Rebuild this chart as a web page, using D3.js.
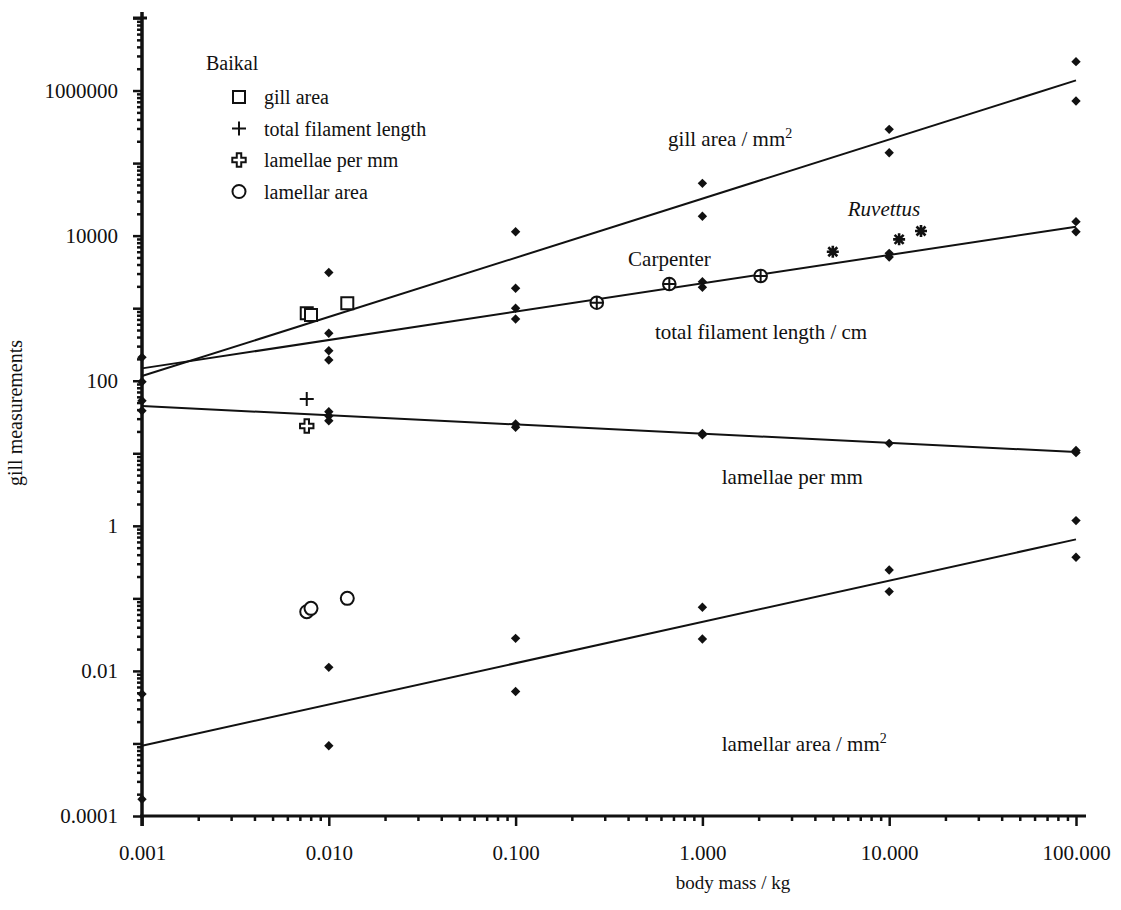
<!DOCTYPE html>
<html lang="en">
  <head>
    <meta charset="utf-8">
    <title>gill measurements</title>
    <script src="https://cdn.jsdelivr.net/npm/d3@7"></script>
    <style>
      body { margin: 0; background: #fff; }
      svg text { font-family: "Liberation Serif", "Times New Roman", serif; fill: #111; }
    </style>
  </head>
  <body>
    <svg id="svg"></svg>

    <script type="text/javascript">

        // ---------------------------------------------------- data
        var massTicks   = [0.001, 0.01, 0.1, 1, 10, 100];
        var massLabels  = ["0.001", "0.010", "0.100", "1.000", "10.000", "100.000"];
        var gillTicks   = [1e-4, 1e-3, 1e-2, 1e-1, 1, 10, 100, 1e3, 1e4, 1e5, 1e6, 1e7];
        var gillLabelAt = [1e-4, 1e-2, 1, 100, 1e4, 1e6];
        var gillLabels  = ["0.0001", "0.01", "1", "100", "10000", "1000000"];

        // - [body mass kg, value]
        var gillAreaPts = [[0.001, 97], [0.01, 3100], [0.01, 451], [0.1, 11300], [0.1, 1880],
                           [1, 52600], [1, 18500], [10, 292000], [10, 139000], [100, 2500000], [100, 717000]];
        var filamentPts = [[0.001, 210], [0.01, 259], [0.01, 193], [0.1, 996], [0.1, 709],
                           [1, 2320], [1, 1940], [10, 5700], [10, 5080], [100, 15600], [100, 11300]];
        var lamellaePts = [[0.001, 53], [0.001, 38.6], [0.01, 37.4], [0.01, 32.6], [0.01, 28.1],
                           [0.1, 25.3], [0.1, 22.8], [1, 18.8], [1, 17.9], [10, 13.7], [100, 10.9], [100, 10.2]];
        var lamAreaPts  = [[0.001, 0.0048], [0.001, 0.00017], [0.01, 0.0112], [0.01, 0.00093],
                           [0.1, 0.0281], [0.1, 0.0052], [1, 0.0753], [1, 0.0275],
                           [10, 0.246], [10, 0.124], [100, 1.18], [100, 0.368]];

        // - fitted lines, ends at 0.001 and 100 kg
        var gillAreaFit = [[0.001, 116], [100, 1380000]];
        var filamentFit = [[0.001, 148], [100, 13300]];
        var lamellaeFit = [[0.001, 44.8], [100, 10.4]];
        var lamAreaFit  = [[0.001, 0.00093], [100, 0.65]];

        // - Baikal, Carpenter, Ruvettus
        var baikalGill     = [[0.00762, 849], [0.00803, 805], [0.01256, 1167]];
        var baikalFilament = [[0.00762, 56]];
        var baikalLamellae = [[0.00762, 23.8]];
        var baikalLamArea  = [[0.00762, 0.0655], [0.00803, 0.0729], [0.01256, 0.100]];
        var carpenterPts   = [[0.272, 1190], [0.665, 2150], [2.05, 2780]];
        var ruvettusPts    = [[4.99, 6000], [11.3, 8890], [14.8, 11600]];

        // - line labels, anchored in data space [mass, value, text, superscript, italic]
        var lineLabels = [
            [0.655, 172000, "gill area / mm", "2", false],
            [6.0, 18600, "Ruvettus", "", true],
            [0.40, 3810, "Carpenter", "", false],
            [0.557, 376, "total filament length / cm", "", false],
            [1.27, 3.77, "lamellae per mm", "", false],
            [1.27, 0.00079, "lamellar area / mm", "2", false]
        ];

        var legendItems = ["gill area", "total filament length", "lamellae per mm", "lamellar area"];


        // ---------------------------------------------------- setup
        var W = 1121, H = 910;
        var svg = d3.select("svg#svg").attr("width", W).attr("height", H);

        var x = d3.scaleLog().domain([0.001, 100]).range([142, 1076]);
        var y = d3.scaleLog().domain([1e-4, 1e7]).range([816, 18]);

        function minors(lo, hi) {
            // - 2..9 for every decade
            var out = [];
            for (var e = lo; e < hi; e++) {
                for (var m = 2; m <= 9; m++) out.push(m * Math.pow(10, e));
            }
            return out;
        }

        // ---------------------------------------------------- axes
        var xg = svg.append("g").attr("transform", "translate(0," + y(1e-4) + ")");
        xg.append("g")
            .call(d3.axisBottom(x).tickValues(minors(-3, 2)).tickSize(5).tickFormat(""))
            .call(g => g.select(".domain").remove());
        xg.append("g")
            .call(d3.axisBottom(x).tickValues(massTicks).tickSize(10).tickPadding(19)
                .tickFormat((d, i) => massLabels[i]))
            .call(g => g.select(".domain").remove())
            .selectAll("text").style("font-size", "21px");
        xg.selectAll("line").attr("stroke", "#111").attr("stroke-width", 2.5);
        xg.append("line")
            .attr("x1", x(0.001) - 2).attr("x2", x(100) + 10)
            .attr("stroke", "#111").attr("stroke-width", 3);

        var yg = svg.append("g").attr("transform", "translate(" + x(0.001) + ",0)");
        yg.append("g")
            .call(d3.axisLeft(y).tickValues(minors(-4, 7)).tickSize(5).tickFormat(""))
            .call(g => g.select(".domain").remove());
        yg.append("g")
            .call(d3.axisLeft(y).tickValues(gillTicks).tickSize(9).tickPadding(15)
                .tickFormat(d => {
                    var i = gillLabelAt.findIndex(v => Math.abs(Math.log10(v) - Math.log10(d)) < 1e-6);
                    return i < 0 ? "" : gillLabels[i];
                }))
            .call(g => g.select(".domain").remove())
            .selectAll("text").style("font-size", "21px");
        yg.selectAll("line").attr("stroke", "#111").attr("stroke-width", 2.5);
        yg.append("line")
            .attr("y1", y(1e-4) + 10).attr("y2", y(1e7) - 6)
            .attr("stroke", "#111").attr("stroke-width", 3.5);
        // - cross cap at the top of the y axis
        yg.append("line")
            .attr("x1", -9).attr("x2", 5).attr("y1", y(1e7)).attr("y2", y(1e7))
            .attr("stroke", "#111").attr("stroke-width", 3);

        // - axis titles
        svg.append("text")
            .attr("x", (x(0.001) + x(100)) / 2 + 124).attr("y", 889)
            .attr("text-anchor", "middle").style("font-size", "19px")
            .text("body mass / kg");
        svg.append("text")
            .attr("transform", "translate(22,413) rotate(-90)")
            .attr("text-anchor", "middle").style("font-size", "20px")
            .text("gill measurements");


        // ---------------------------------------------------- fitted lines
        var line = d3.line().x(d => x(d[0])).y(d => y(d[1]));
        [gillAreaFit, filamentFit, lamellaeFit, lamAreaFit].forEach(function(f) {
            svg.append("path").attr("d", line(f))
                .attr("fill", "none").attr("stroke", "#111").attr("stroke-width", 2);
        });


        // ---------------------------------------------------- markers
        var diamond = d3.symbol(d3.symbolSquare, 44)();
        function draw_points(pts, shape, cls) {
            svg.append("g").attr("class", cls)
                .selectAll("path").data(pts).join("path")
                .attr("d", shape.d)
                .attr("fill", shape.fill)
                .attr("stroke", shape.stroke || "none")
                .attr("stroke-width", shape.sw || 0)
                .attr("transform", d => "translate(" + x(d[0]) + "," + y(d[1]) + ")" + (shape.rot ? " rotate(45)" : ""));
        }

        var shapes = {
            diamond:  { d: diamond, fill: "#111", rot: true },
            square:   { d: d3.symbol(d3.symbolSquare, 144)(), fill: "#fff", stroke: "#111", sw: 2 },
            plus:     { d: "M-7,0H7M0,-7V7", fill: "none", stroke: "#111", sw: 2 },
            cross:    { d: d3.symbol(d3.symbolCross, 100)(), fill: "#fff", stroke: "#111", sw: 2 },
            circle:   { d: d3.symbol(d3.symbolCircle, 133)(), fill: "#fff", stroke: "#111", sw: 2 },
            oplus:    { d: d3.symbol(d3.symbolCircle, 125)() + "M-6.3,0H6.3M0,-6.3V6.3", fill: "#fff", stroke: "#111", sw: 2 },
            asterisk: { d: "M-6,0H6M0,-6V6M-4.5,-4.5L4.5,4.5M-4.5,4.5L4.5,-4.5", fill: "none", stroke: "#111", sw: 2.6 }
        };

        [gillAreaPts, filamentPts, lamellaePts, lamAreaPts].forEach(function(p, i) {
            draw_points(p, shapes.diamond, "series" + i);
        });
        draw_points(baikalGill, shapes.square, "baikal-gill");
        draw_points(baikalFilament, shapes.plus, "baikal-filament");
        draw_points(baikalLamellae, shapes.cross, "baikal-lamellae");
        draw_points(baikalLamArea, shapes.circle, "baikal-lamarea");
        draw_points(carpenterPts, shapes.oplus, "carpenter");
        draw_points(ruvettusPts, shapes.asterisk, "ruvettus");


        // ---------------------------------------------------- labels
        lineLabels.forEach(function(l) {
            var t = svg.append("text")
                .attr("x", x(l[0])).attr("y", y(l[1]))
                .style("font-size", "21px")
                .style("font-style", l[4] ? "italic" : "normal")
                .text(l[2]);
            if (l[3]) {
                t.append("tspan").attr("dy", -8).style("font-size", "14px").text(l[3]);
            }
        });


        // ---------------------------------------------------- legend
        var lg = svg.append("g").attr("transform", "translate(206,0)");
        lg.append("text").attr("x", 0).attr("y", 70).style("font-size", "20px").text("Baikal");
        var legendShapes = [shapes.square, shapes.plus, shapes.cross, shapes.circle];
        legendItems.forEach(function(name, i) {
            var yy = 97 + i * 31.5;
            var s = legendShapes[i];
            lg.append("path").attr("d", s.d)
                .attr("transform", "translate(33," + yy + ")")
                .attr("fill", s.fill).attr("stroke", s.stroke).attr("stroke-width", s.sw);
            lg.append("text").attr("x", 58).attr("y", yy + 7).style("font-size", "20px").text(name);
        });

    </script>
  </body>
</html>
